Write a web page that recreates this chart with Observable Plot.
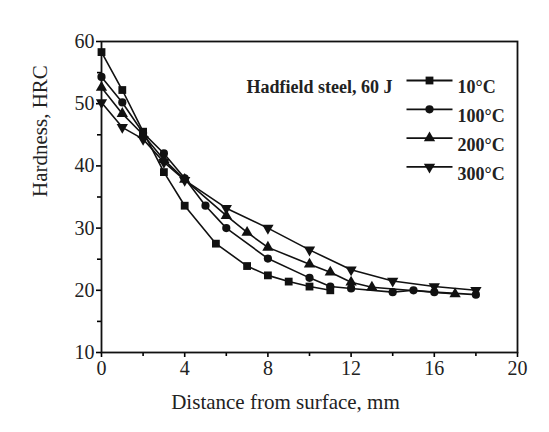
<!DOCTYPE html>
<html>
<head>
<meta charset="utf-8">
<script src="https://cdn.jsdelivr.net/npm/d3@7"></script>
<script src="https://cdn.jsdelivr.net/npm/@observablehq/plot@0.6"></script>
<style>
  html, body { margin: 0; padding: 0; background: #fff; }
  #chart svg { display: block; }
</style>
</head>
<body>
<div id="chart"></div>
<script>
// ---- Data ----
const seriesNames = ["10°C", "100°C", "200°C", "300°C"];
const x10  = [0, 1, 2, 3, 4, 5.5, 7, 8, 9, 10, 11];
const y10  = [58.3, 52.2, 45.5, 39.0, 33.6, 27.5, 23.9, 22.4, 21.4, 20.6, 20.0];
const x100 = [0, 1, 2, 3, 4, 5, 6, 8, 10, 11, 12, 14, 15, 16, 18];
const y100 = [54.3, 50.2, 45.3, 42.0, 38.0, 33.6, 30.0, 25.1, 22.0, 20.6, 20.3, 19.7, 20.0, 19.7, 19.3];
const x200 = [0, 1, 2, 3, 4, 6, 7, 8, 10, 11, 12, 13, 17];
const y200 = [52.6, 48.4, 45.0, 41.0, 37.8, 32.0, 29.3, 26.9, 24.2, 22.9, 21.3, 20.5, 19.4];
const x300 = [0, 1, 2, 3, 4, 6, 8, 10, 12, 14, 16, 18];
const y300 = [50.2, 46.2, 44.3, 40.6, 37.7, 33.2, 30.0, 26.5, 23.3, 21.5, 20.6, 20.0];
const xTicks = [0, 4, 8, 12, 16, 20];
const xMinor = [2, 6, 10, 14, 18];
const yTicks = [10, 20, 30, 40, 50, 60];
const yMinor = [15, 25, 35, 45, 55];
const legendTitle = "Hadfield steel, 60 J";
const xLabel = "Distance from surface, mm";
const yLabel = "Hardness, HRC";

// ---- Build table ----
const xs = [x10, x100, x200, x300];
const ys = [y10, y100, y200, y300];
const data = seriesNames.flatMap((s, i) => xs[i].map((x, j) => ({series: s, x, y: ys[i][j]})));

// symbols
const triangleDown = {
  draw(context, size) {
    d3.symbolTriangle.draw({
      moveTo: (x, y) => context.moveTo(x, -y),
      lineTo: (x, y) => context.lineTo(x, -y),
      closePath: () => context.closePath()
    }, size);
  }
};
const legendLine = {
  draw(context) { context.moveTo(-23, 0); context.lineTo(23, 0); }
};
const symbols = [d3.symbolSquare, d3.symbolCircle, d3.symbolTriangle, triangleDown];
const sizes = [4.4, 4.1, 4.2, 4.2];

const font = "Liberation Serif, Times New Roman, serif";
const marks = [];

// axes
marks.push(Plot.axisX(xTicks, {label: null, tickSize: 5, tickPadding: 3, fontSize: 20, fill: "#222", strokeWidth: 1.6, tickFormat: d => String(d)}));
marks.push(Plot.axisX(xMinor, {label: null, tickSize: 4, strokeWidth: 1.6, text: null}));
marks.push(Plot.axisY(yTicks, {label: null, tickSize: 5, tickPadding: 2, fontSize: 20, fill: "#222", strokeWidth: 1.6, tickFormat: d => String(d)}));
marks.push(Plot.axisY(yMinor, {label: null, tickSize: 4, strokeWidth: 1.6, text: null}));
marks.push(Plot.frame({stroke: "#111", strokeWidth: 1.8}));

// series
seriesNames.forEach((s, i) => {
  const d = data.filter(r => r.series === s);
  marks.push(Plot.line(d, {x: "x", y: "y", stroke: "#111", strokeWidth: 1.6}));
  marks.push(Plot.dot(d, {x: "x", y: "y", symbol: () => symbols[i], r: sizes[i], fill: "#111", stroke: "none"}));
});

// legend (anchored to the frame's top-left corner)
marks.push(Plot.text([legendTitle], {text: d => d, frameAnchor: "top-left", dx: 291, dy: 39, textAnchor: "end", fontSize: 18, fontWeight: "bold", fill: "#222"}));
seriesNames.forEach((s, i) => {
  const dy = 39 + i * 28.8;
  marks.push(Plot.dot([s], {frameAnchor: "top-left", dx: 328, dy, symbol: () => legendLine, r: 10, stroke: "#111", strokeWidth: 1.8, fill: "none"}));
  marks.push(Plot.dot([s], {frameAnchor: "top-left", dx: 328, dy, symbol: () => symbols[i], r: sizes[i], fill: "#111", stroke: "none"}));
  marks.push(Plot.text([s], {text: d => d, frameAnchor: "top-left", dx: 356, dy, textAnchor: "start", fontSize: 18, fontWeight: "bold", fill: "#222"}));
});

// axis labels
marks.push(Plot.text([yLabel], {text: d => d, frameAnchor: "left", dx: -61, rotate: -90, fontSize: 21, fill: "#222"}));
marks.push(Plot.text([xLabel], {text: d => d, frameAnchor: "bottom", dx: -24, dy: 56, fontSize: 21, fill: "#222"}));

const chart = Plot.plot({
  width: 549,
  height: 432,
  marginLeft: 101,
  marginRight: 32,
  marginTop: 41,
  marginBottom: 80,
  style: {fontFamily: font, background: "#fff", overflow: "visible"},
  x: {domain: [0, 20]},
  y: {domain: [10, 60]},
  symbol: {type: "identity"},
  marks
});
document.getElementById("chart").appendChild(chart);
</script>
</body>
</html>
